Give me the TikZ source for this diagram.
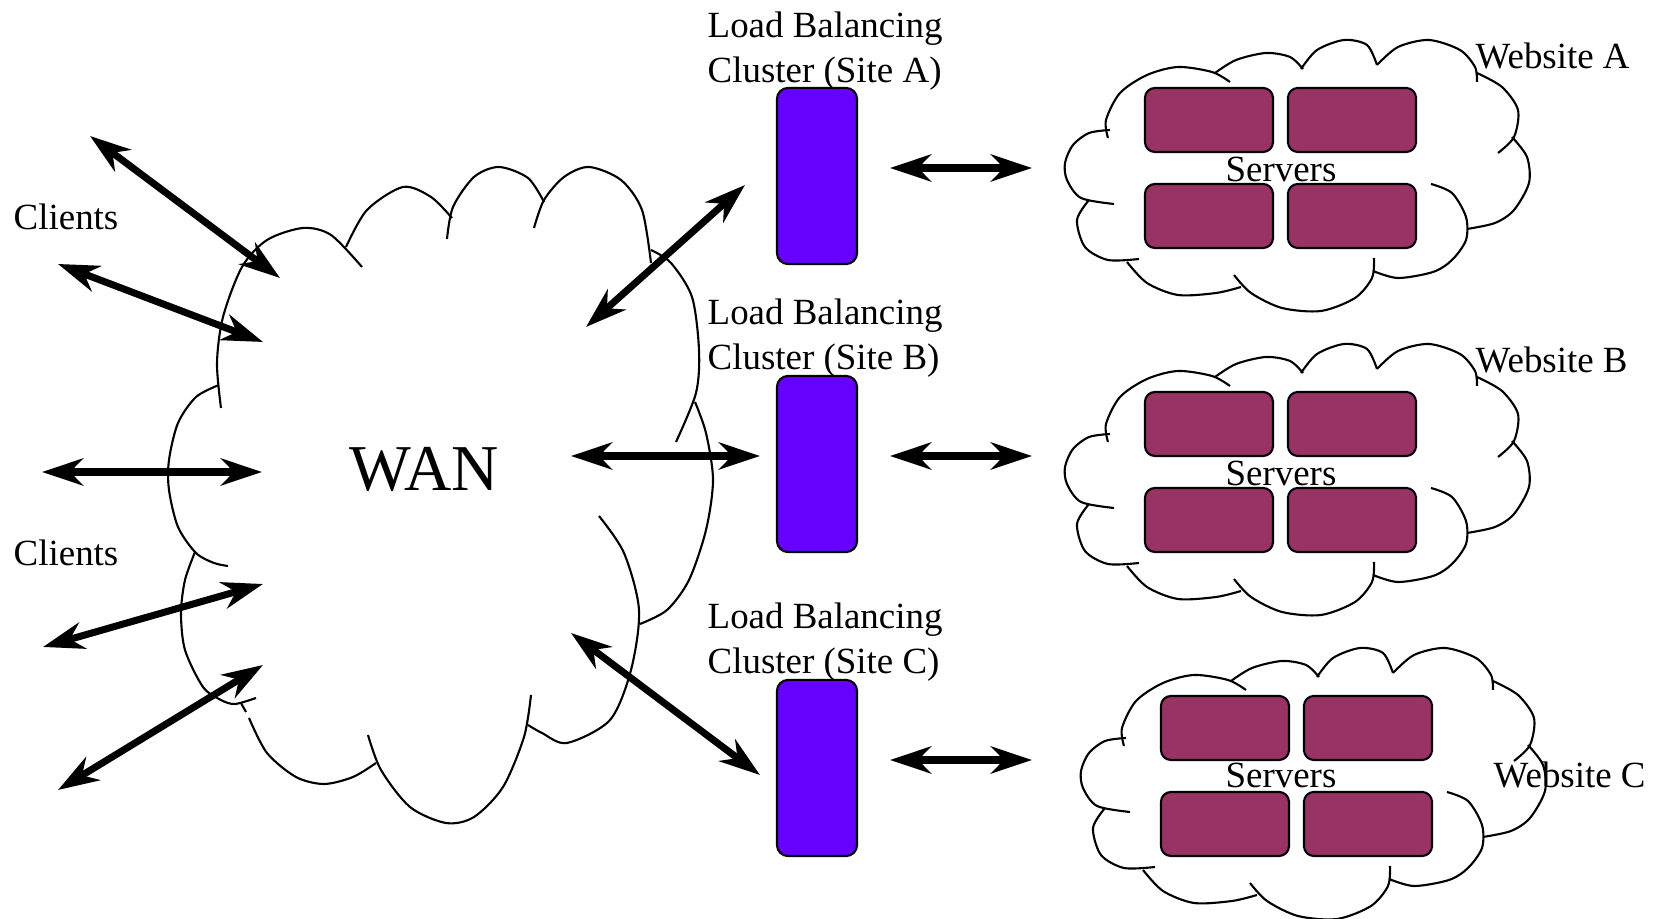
\documentclass[tikz,border=0pt]{standalone}
\usepackage{fontspec}
\setmainfont{Liberation Serif}
\usetikzlibrary{arrows.meta}
\definecolor{lbfill}{RGB}{102,0,255}
\definecolor{srvfill}{RGB}{153,51,102}
\begin{document}
\begin{tikzpicture}[x=0.01cm,y=-0.01cm,
  cloudline/.style={line width=0.6pt},
  link/.style={line width=2pt,
    {Stealth[length=4.1mm,width=2.7mm,inset=1.3mm]}-{Stealth[length=4.1mm,width=2.7mm,inset=1.3mm]}},
  lbbox/.style={draw, line width=0.6pt, fill=lbfill, rounded corners=1.1mm,
    minimum width=0.8cm, minimum height=1.76cm, inner sep=0pt},
  srvbox/.style={draw, line width=0.6pt, fill=srvfill, rounded corners=1mm,
    minimum width=1.28cm, minimum height=0.64cm, inner sep=0pt},
  lbl/.style={font=\fontsize{10.5}{12.8}\selectfont, inner sep=0pt}]
\useasboundingbox (0,0) rectangle (1656,919);

% ---------- WAN cloud ----------
\begin{scope}[cloudline]
\draw plot[smooth] coordinates {(221,408) (217,363) (223,317) (242,267) (267,240) (303,228) (331,235) (362,267)};
\draw plot[smooth] coordinates {(346,247) (367,210) (403,187) (431,197) (452,218)};
\draw plot[smooth] coordinates {(447,239) (453,207) (474,177) (499,167) (528,178) (544,202)};
\draw plot[smooth] coordinates {(534,228) (544,200) (564,177) (589,167) (621,180) (642,210) (651,263)};
\draw plot[smooth] coordinates {(651,250) (671,263) (692,297) (699,350) (696,393) (676,442)};
\draw plot[smooth] coordinates {(695,402) (706,433) (713,480) (706,530) (689,580) (667,610) (640,624)};
\draw plot[smooth] coordinates {(599,516) (624,553) (639,610) (631,670) (610,720) (567,743) (542,733) (528,725)};
\draw plot[smooth] coordinates {(531,695) (524,737) (503,787) (474,817) (446,823) (410,807) (381,770) (368,735)};
\draw plot[smooth] coordinates {(376,763) (353,777) (324,784) (296,777) (267,753) (249,718)};
\draw plot[smooth] coordinates {(195,552) (185,580) (181,613) (185,650) (203,687) (221,700) (235,704) (256,698)};
\draw (241,703) -- (246,712);
\draw plot[smooth] coordinates {(219,385) (196,397) (178,423) (169,460) (169,490) (178,527) (196,553) (214,563) (228,566)};
\end{scope}
\node[font=\fontsize{18.6}{20}\selectfont, inner sep=0pt, anchor=base] (wan) at (424,491) {WAN};

% ---------- websites: cloud with four servers ----------
\foreach \s/\dx/\dy in {A/0/0, B/0/304, C/16/608} {
\begin{scope}[shift={(\dx,\dy)}]
  \begin{scope}[cloudline]
  \draw plot[smooth] coordinates {(1108,138) (1106,120) (1120,93) (1147,75) (1178,67) (1212,72) (1230,82)};
  \draw plot[smooth] coordinates {(1215,73) (1236,60) (1266,53) (1290,57) (1303,69)};
  \draw plot[smooth] coordinates {(1301,69) (1317,50) (1344,40) (1367,45) (1377,65)};
  \draw plot[smooth] coordinates {(1377,65) (1398,47) (1429,40) (1460,50) (1475,67) (1477,82)};
  \draw plot[smooth] coordinates {(1477,73) (1502,87) (1518,110) (1514,137) (1498,153)};
  \draw plot[smooth] coordinates {(1512,137) (1527,157) (1529,183) (1514,210) (1495,223) (1467,229)};
  \draw plot[smooth] coordinates {(1431,184) (1452,193) (1466,217) (1466,240) (1452,260) (1433,272) (1398,278) (1373,271)};
  \draw plot[smooth] coordinates {(1374,258) (1372,278) (1355,298) (1321,311) (1282,308) (1251,293) (1234,275)};
  \draw plot[smooth] coordinates {(1241,287) (1216,293) (1178,295) (1147,283) (1127,262)};
  \draw plot[smooth] coordinates {(1089,200) (1077,220) (1085,247) (1108,260) (1139,259)};
  \draw plot[smooth] coordinates {(1114,204) (1081,198) (1067,180) (1065,163) (1073,145) (1089,133) (1110,130)};
  \end{scope}
  \node[srvbox] (srv\s1) at (1209,120) {};
  \node[srvbox] (srv\s2) at (1352,120) {};
  \node[srvbox] (srv\s3) at (1209,216) {};
  \node[srvbox] (srv\s4) at (1352,216) {};
\end{scope}
}
\node[lbl, anchor=base] (srvtA) at (1281,182) {Servers};
\node[lbl, anchor=base] (srvtB) at (1281,486) {Servers};
\node[lbl, anchor=base] (srvtC) at (1281,788) {Servers};
\node[lbl, anchor=base west] (webA) at (1475,69) {Website A};
\node[lbl, anchor=base west] (webB) at (1475,373) {Website B};
\node[lbl, anchor=base west] (webC) at (1493,788) {Website C};

% ---------- load balancing clusters ----------
\node[lbbox] (lbA) at (817,176) {};
\node[lbbox] (lbB) at (817,464) {};
\node[lbbox] (lbC) at (817,768) {};
% base anchor of a two-line label sits on its last line
\node[lbl, anchor=base west, align=left] (lbtA) at (707,83) {Load Balancing\\Cluster (Site A)};
\node[lbl, anchor=base west, align=left] (lbtB) at (707,370) {Load Balancing\\Cluster (Site B)};
\node[lbl, anchor=base west, align=left] (lbtC) at (707,674) {Load Balancing\\Cluster (Site C)};

% ---------- clients ----------
\node[lbl, anchor=base west] (cliA) at (13,230) {Clients};
\node[lbl, anchor=base west] (cliB) at (13,566) {Clients};

% ---------- connector end points ----------
\coordinate (c1o) at (90,136);  \coordinate (c1i) at (280,278);
\coordinate (c2o) at (58,264);  \coordinate (c2i) at (263,342);
\coordinate (c3o) at (42,472);  \coordinate (c3i) at (262,472);
\coordinate (c4o) at (43,647);  \coordinate (c4i) at (263,584);
\coordinate (c5o) at (58,790);  \coordinate (c5i) at (263,665);
\coordinate (w1i) at (586,327); \coordinate (w1o) at (745,185);
\coordinate (w2i) at (571,456); \coordinate (w2o) at (760,456);
\coordinate (w3i) at (571,633); \coordinate (w3o) at (760,775);
\coordinate (s1l) at (890,168); \coordinate (s1r) at (1032,168);
\coordinate (s2l) at (890,456); \coordinate (s2r) at (1032,456);
\coordinate (s3l) at (890,760); \coordinate (s3r) at (1032,760);

% ---------- connectors ----------
\draw[link] (c1o) -- (c1i);
\draw[link] (c2o) -- (c2i);
\draw[link] (c3o) -- (c3i);
\draw[link] (c4o) -- (c4i);
\draw[link] (c5o) -- (c5i);
\draw[link] (w1i) -- (w1o);
\draw[link] (w2i) -- (w2o);
\draw[link] (w3i) -- (w3o);
\draw[link] (s1l) -- (s1r);
\draw[link] (s2l) -- (s2r);
\draw[link] (s3l) -- (s3r);
\end{tikzpicture}
\end{document}
